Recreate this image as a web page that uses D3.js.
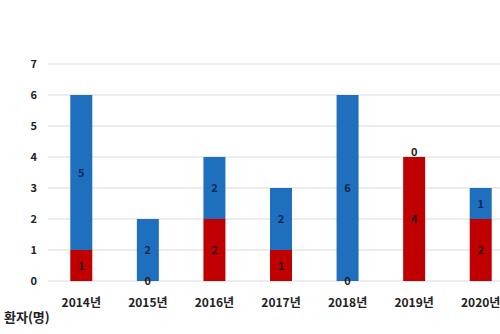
<!DOCTYPE html>
<html><head><meta charset="utf-8">
<script src="https://cdn.jsdelivr.net/npm/d3@7"></script>
<style>body{margin:0;background:#fff}svg{display:block}text{font-family:"Noto Sans CJK KR","Noto Sans",sans-serif;font-weight:bold}</style>
</head><body>
<svg id="c" width="500" height="334"></svg>
<script>
const categories = ["2014년","2015년","2016년","2017년","2018년","2019년","2020년"];
const redValues = [1,0,2,1,0,4,2];
const blueValues = [5,2,2,2,6,0,1];
const yTicks = [0,1,2,3,4,5,6,7];
const yAxisTitle = "환자(명)";

(function(){
const svg = d3.select("#c");
const mL = 48, mR = 514, mT = 64, mB = 281;
const x = d3.scaleBand().domain(categories).range([mL, mR]).paddingInner(0).paddingOuter(0);
const y = d3.scaleLinear().domain([0,7]).range([mB, mT]);
const bw = 22;

svg.append("g").selectAll("line").data(yTicks).join("line")
  .attr("x1", mL).attr("x2", 500)
  .attr("y1", d => y(d)).attr("y2", d => y(d))
  .attr("stroke", "#d9d9d9").attr("stroke-width", 1);

const yAxis = d3.axisLeft(y).tickValues(yTicks).tickFormat(d3.format("d")).tickSize(0).tickPadding(0);
const ga = svg.append("g").attr("transform", `translate(37,0)`).call(yAxis);
ga.select(".domain").remove();
ga.selectAll("text").attr("font-size", 11).attr("fill", "#222").attr("font-weight","bold").attr("font-family",null);

const stack = categories.map((c,i) => ({c, r: redValues[i], b: blueValues[i]}));
const cx = d => x(d.c) + x.bandwidth()/2;

svg.append("g").selectAll("rect").data(stack).join("rect")
  .attr("x", d => cx(d) - bw/2).attr("width", bw)
  .attr("y", d => y(d.r)).attr("height", d => y(0) - y(d.r))
  .attr("fill", "#c00000");
svg.append("g").selectAll("rect").data(stack).join("rect")
  .attr("x", d => cx(d) - bw/2).attr("width", bw)
  .attr("y", d => y(d.r + d.b)).attr("height", d => y(d.r) - y(d.r + d.b))
  .attr("fill", "#1f6fbf");

svg.append("g").selectAll("text").data(stack).join("text")
  .attr("x", cx).attr("y", d => y(d.r/2) + 4)
  .attr("text-anchor","middle").attr("font-size", 11).attr("fill", "#2a1a1a")
  .text(d => d.r);
svg.append("g").selectAll("text").data(stack).join("text")
  .attr("x", cx).attr("y", d => y(d.r + d.b/2) + 4 - (d.b === 0 ? 5 : 0))
  .attr("text-anchor","middle").attr("font-size", 11).attr("fill", d => d.b === 0 ? "#222" : "#0d2a4a")
  .text(d => d.b);

const xAxis = d3.axisBottom(x).tickSize(0).tickPadding(0);
const gx = svg.append("g").attr("transform", `translate(0,${mB+26})`).call(xAxis);
gx.select(".domain").remove();
gx.selectAll("text").attr("font-size", 12).attr("fill", "#222").attr("dy", 0).attr("font-weight","bold").attr("font-family",null);

svg.append("text").attr("x", 4).attr("y", 322).attr("font-size", 13).attr("fill", "#222").text(yAxisTitle);
})();
</script>
</body></html>
